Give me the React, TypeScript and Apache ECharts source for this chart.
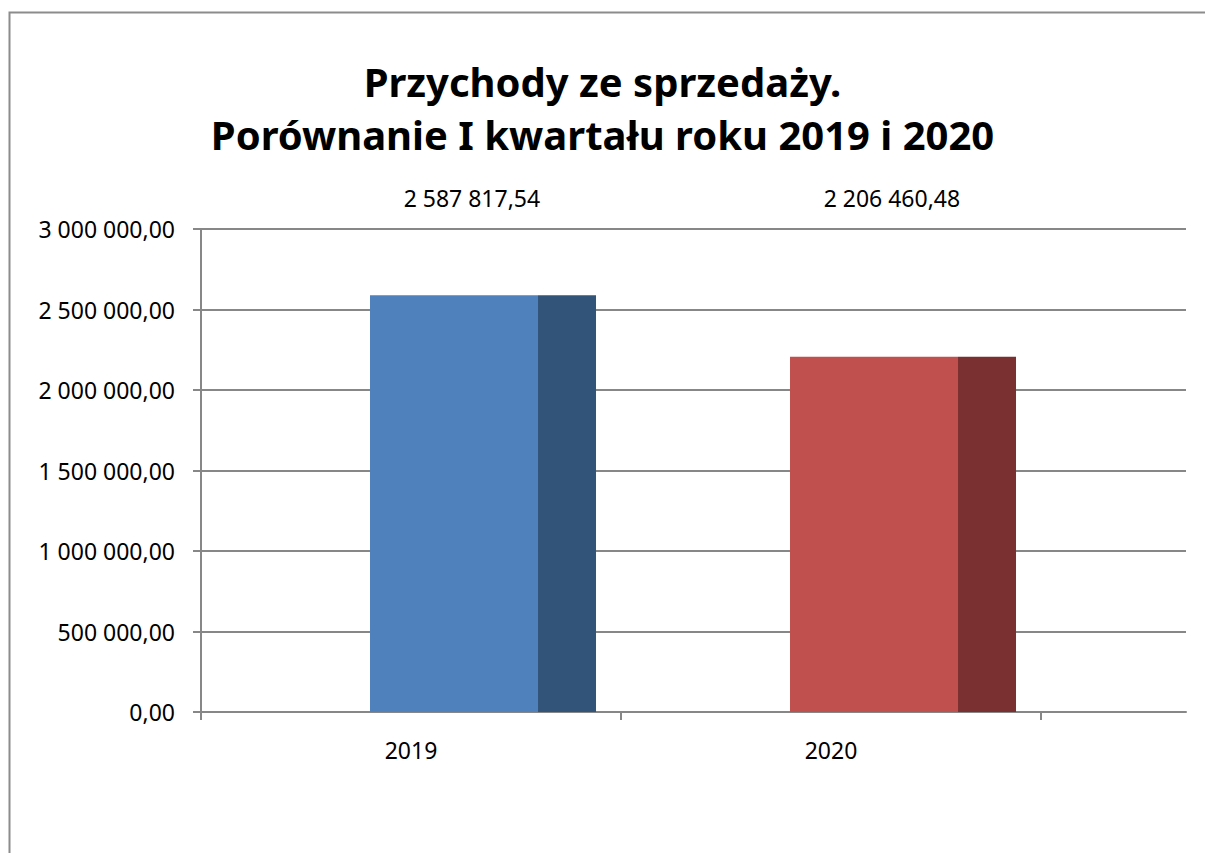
import React, { useEffect, useRef } from "react";
import * as echarts from "echarts";

const titleLines = ["Przychody ze sprzedaży.", "Porównanie I kwartału roku 2019 i 2020"];
const categories = ["2019", "2020"];
const values = [2587817.54, 2206460.48];
const yMin = 0;
const yMax = 3000000;
const yInterval = 500000;

const frontColors = ["#4F81BD", "#C0504D"];
const sideColors = ["#325479", "#7A3030"];

const FONT = "'Noto Sans', 'Open Sans', sans-serif";

function fmt(v: number): string {
  const [i, d] = v.toFixed(2).split(".");
  const withSpaces = i.replace(/\B(?=(\d{3})+(?!\d))/g, " ");
  return withSpaces + "," + d;
}

export default function App() {
  const ref = useRef<HTMLDivElement>(null);
  useEffect(() => {
    if (!ref.current) return;
    const chart = echarts.init(ref.current, undefined, { renderer: "svg" });
    const gridTop = 229;
    const gridHeight = 483;
    chart.setOption({
      animation: false,
      backgroundColor: "#ffffff",
      title: {
        text: titleLines.join("\n"),
        left: "center",
        top: 50,
        textStyle: {
          fontFamily: FONT,
          fontWeight: "bold",
          fontSize: 40,
          lineHeight: 53,
          color: "#000000",
        },
      },
      graphic: [
        {
          type: "rect",
          shape: { x: 9.5, y: 12.5, width: 1400, height: 1000 },
          style: { fill: "none", stroke: "#8c8c8c", lineWidth: 2 },
          silent: true,
          z: 100,
        },
      ],
      grid: [
        { left: 201, top: gridTop, width: 985, height: gridHeight },
        { left: 201, top: gridTop, width: 840, height: gridHeight },
      ],
      xAxis: [
        {
          gridIndex: 0,
          type: "value",
          min: 0,
          max: 1,
          axisLabel: { show: false },
          axisTick: { show: false },
          splitLine: { show: false },
          axisLine: { show: true, lineStyle: { color: "#878787", width: 2 } },
        },
        {
          gridIndex: 1,
          type: "category",
          data: categories,
          boundaryGap: true,
          axisLine: { show: false },
          axisTick: { show: true, length: 8, lineStyle: { color: "#878787", width: 2 } },
          axisLabel: { margin: 26, fontFamily: FONT, fontSize: 23, color: "#000000" },
          splitLine: { show: false },
        },
      ],
      yAxis: [
        {
          gridIndex: 0,
          type: "value",
          min: yMin,
          max: yMax,
          interval: yInterval,
          axisLine: { show: true, lineStyle: { color: "#878787", width: 2 } },
          axisTick: { show: true, length: 8, lineStyle: { color: "#878787", width: 2 } },
          axisLabel: {
            margin: 26,
            fontFamily: FONT,
            fontSize: 23,
            color: "#000000",
            formatter: (v: number) => fmt(v),
          },
          splitLine: { show: true, lineStyle: { color: "#878787", width: 2 } },
        },
        {
          gridIndex: 1,
          type: "value",
          min: yMin,
          max: yMax,
          interval: yInterval,
          show: false,
        },
      ],
      series: [
        {
          type: "custom",
          xAxisIndex: 1,
          yAxisIndex: 1,
          data: values.map((v, i) => [i, v]),
          z: 5,
          renderItem: (params: any, api: any) => {
            const idx = api.value(0);
            const val = api.value(1);
            const top = api.coord([idx, val]);
            const base = api.coord([idx, 0]);
            const bw = api.size([1, 0])[0];
            const cx = top[0];
            const x0 = cx - bw * 0.0976;
            const x1 = cx + bw * 0.3024;
            const x2 = cx + bw * 0.4405;
            const h = base[1] - top[1];
            const cs = params.coordSys;
            return {
              type: "group",
              children: [
                {
                  type: "rect",
                  shape: { x: x0, y: top[1], width: x1 - x0, height: h },
                  style: { fill: frontColors[idx] },
                },
                {
                  type: "rect",
                  shape: { x: x1, y: top[1], width: x2 - x1, height: h },
                  style: { fill: sideColors[idx] },
                },
                {
                  type: "text",
                  x: cx + bw * 0.145,
                  y: cs.y - 31,
                  style: {
                    text: fmt(val),
                    fontFamily: FONT,
                    fontSize: 23,
                    fill: "#000000",
                    align: "center",
                    verticalAlign: "middle",
                  },
                },
              ],
            };
          },
        },
      ],
    });
    return () => chart.dispose();
  }, []);
  return (
    <div
      ref={ref}
      style={{ position: "fixed", left: 0, top: 0, width: 1205, height: 853 }}
    />
  );
}
